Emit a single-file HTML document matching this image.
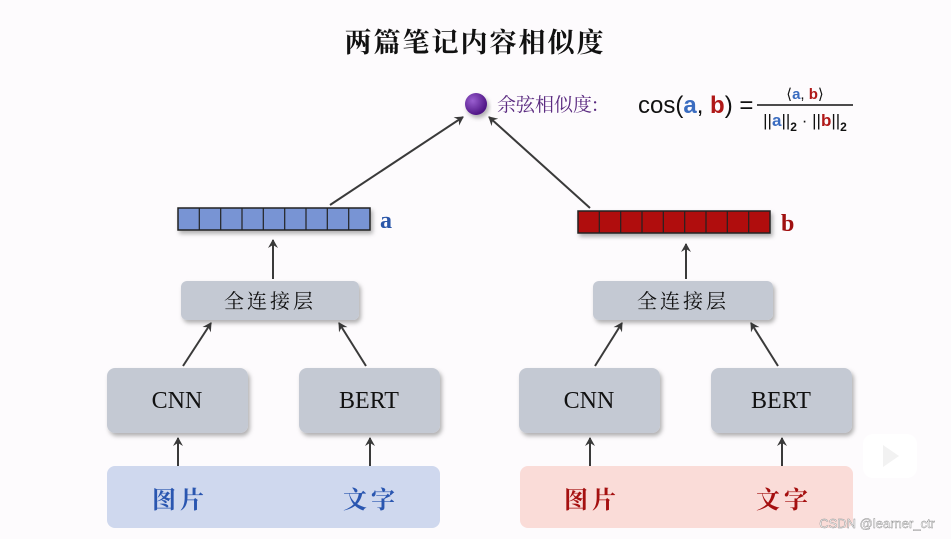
<!DOCTYPE html>
<html><head><meta charset="utf-8"><style>
body{margin:0;background:#fdfbfd;}
svg{display:block}
</style></head><body>
<svg width="951" height="539" viewBox="0 0 951 539" xmlns="http://www.w3.org/2000/svg">
<defs>
<marker id="ah" markerWidth="10" markerHeight="10" refX="8" refY="5" orient="auto" markerUnits="userSpaceOnUse"><path d="M0,0 L9,5 L0,10 L3,5 Z" fill="#3a3a3a"/></marker>
<radialGradient id="ball" cx="0.35" cy="0.35" r="0.7"><stop offset="0" stop-color="#9a5fd0"/><stop offset="1" stop-color="#4a1080"/></radialGradient>
<filter id="sh" x="-10%" y="-10%" width="130%" height="140%"><feDropShadow dx="2" dy="3" stdDeviation="2" flood-color="#000" flood-opacity="0.3"/></filter>
</defs>
<rect width="951" height="539" fill="#fdfbfd"/>
<text x="475" y="52" text-anchor="middle" font-family="'Noto Serif CJK SC','Noto Sans CJK SC',serif" font-weight="bold" font-size="27" fill="#111" letter-spacing="2">两篇笔记内容相似度</text>

<circle cx="476" cy="104" r="11" fill="url(#ball)" filter="url(#sh)"/>
<text x="497" y="111" font-family="'Noto Serif CJK SC',serif" font-size="19" fill="#5a2a80">余弦相似度:</text>
<text x="638" y="113" font-family="'Liberation Sans',sans-serif" font-size="24" fill="#111">cos(<tspan fill="#3a6cc0" font-weight="bold">a</tspan>, <tspan fill="#b01818" font-weight="bold">b</tspan>) =</text>
<text x="805" y="99" text-anchor="middle" font-family="'Liberation Sans',sans-serif" font-size="15" fill="#111">⟨<tspan fill="#3a6cc0" font-weight="bold">a</tspan>, <tspan fill="#b01818" font-weight="bold">b</tspan>⟩</text>
<line x1="757" y1="105" x2="853" y2="105" stroke="#111" stroke-width="1.5"/>
<text x="805" y="126" text-anchor="middle" font-family="'Liberation Sans',sans-serif" font-size="17" fill="#111">||<tspan fill="#3a6cc0" font-weight="bold">a</tspan>||<tspan font-size="12" dy="5" font-weight="bold">2</tspan><tspan dy="-5"> · ||</tspan><tspan fill="#b01818" font-weight="bold">b</tspan>||<tspan font-size="12" dy="5" font-weight="bold">2</tspan></text>

<g stroke="#3a3a3a" stroke-width="2" fill="none" marker-end="url(#ah)">
<line x1="330" y1="205" x2="463" y2="117"/>
<line x1="590" y1="208" x2="489" y2="117"/>
<line x1="273" y1="279" x2="273" y2="240"/>
<line x1="686" y1="279" x2="686" y2="244"/>
<line x1="183" y1="366" x2="211" y2="323"/>
<line x1="366" y1="366" x2="339" y2="323"/>
<line x1="595" y1="366" x2="622" y2="323"/>
<line x1="778" y1="366" x2="751" y2="323"/>
<line x1="178" y1="477" x2="178" y2="438"/>
<line x1="370" y1="477" x2="370" y2="438"/>
<line x1="590" y1="477" x2="590" y2="438"/>
<line x1="782" y1="477" x2="782" y2="438"/>
</g>

<g filter="url(#sh)">
<rect x="178" y="208" width="192" height="22" fill="#7894d4" stroke="#222" stroke-width="1.5"/>
<rect x="578" y="211" width="192" height="22" fill="#b01010" stroke="#222" stroke-width="1.5"/>
</g>
<g stroke="#222" stroke-width="1.2">
<line x1="199.3" y1="208" x2="199.3" y2="230"/><line x1="220.7" y1="208" x2="220.7" y2="230"/><line x1="242" y1="208" x2="242" y2="230"/><line x1="263.3" y1="208" x2="263.3" y2="230"/><line x1="284.7" y1="208" x2="284.7" y2="230"/><line x1="306" y1="208" x2="306" y2="230"/><line x1="327.3" y1="208" x2="327.3" y2="230"/><line x1="348.7" y1="208" x2="348.7" y2="230"/>
<line x1="599.3" y1="211" x2="599.3" y2="233"/><line x1="620.7" y1="211" x2="620.7" y2="233"/><line x1="642" y1="211" x2="642" y2="233"/><line x1="663.3" y1="211" x2="663.3" y2="233"/><line x1="684.7" y1="211" x2="684.7" y2="233"/><line x1="706" y1="211" x2="706" y2="233"/><line x1="727.3" y1="211" x2="727.3" y2="233"/><line x1="748.7" y1="211" x2="748.7" y2="233"/>
</g>
<text x="380" y="228" font-family="'Liberation Serif',serif" font-weight="bold" font-size="24" fill="#2a56a8">a</text>
<text x="781" y="231" font-family="'Liberation Serif',serif" font-weight="bold" font-size="24" fill="#a01010">b</text>

<g fill="#c4c9d3" filter="url(#sh)">
<rect x="181" y="281" width="178" height="39" rx="6"/>
<rect x="593" y="281" width="180" height="39" rx="6"/>
<rect x="107" y="368" width="141" height="65" rx="8"/>
<rect x="299" y="368" width="141" height="65" rx="8"/>
<rect x="519" y="368" width="141" height="65" rx="8"/>
<rect x="711" y="368" width="141" height="65" rx="8"/>
</g>
<g font-family="'Noto Serif CJK SC',serif" font-size="20" fill="#111" text-anchor="middle">
<text x="270" y="308" letter-spacing="3">全连接层</text>
<text x="683" y="308" letter-spacing="3">全连接层</text>
</g>
<g font-family="'Liberation Serif',serif" font-size="24" fill="#111" text-anchor="middle">
<text x="177" y="408">CNN</text><text x="369" y="408">BERT</text>
<text x="589" y="408">CNN</text><text x="781" y="408">BERT</text>
</g>

<rect x="107" y="466" width="333" height="62" rx="8" fill="#cfd8ee"/>
<rect x="520" y="466" width="333" height="62" rx="8" fill="#fadcd8"/>
<g font-family="'Noto Serif CJK SC',serif" font-size="24" font-weight="bold" text-anchor="middle" letter-spacing="4">
<text x="180" y="508" fill="#2a56b0">图片</text><text x="371" y="508" fill="#2a56b0">文字</text>
<text x="592" y="508" fill="#a51010">图片</text><text x="784" y="508" fill="#a51010">文字</text>
</g>

<rect x="863" y="434" width="54" height="44" rx="10" fill="#ffffff"/>
<path d="M883,445 L899,456 L883,467 Z" fill="#f2f2f2"/>
<text x="935" y="528" text-anchor="end" font-family="'Liberation Sans',sans-serif" font-size="13" fill="#ffffff" stroke="#888" stroke-width="0.4">CSDN @learner_ctr</text>
</svg>
</body></html>
